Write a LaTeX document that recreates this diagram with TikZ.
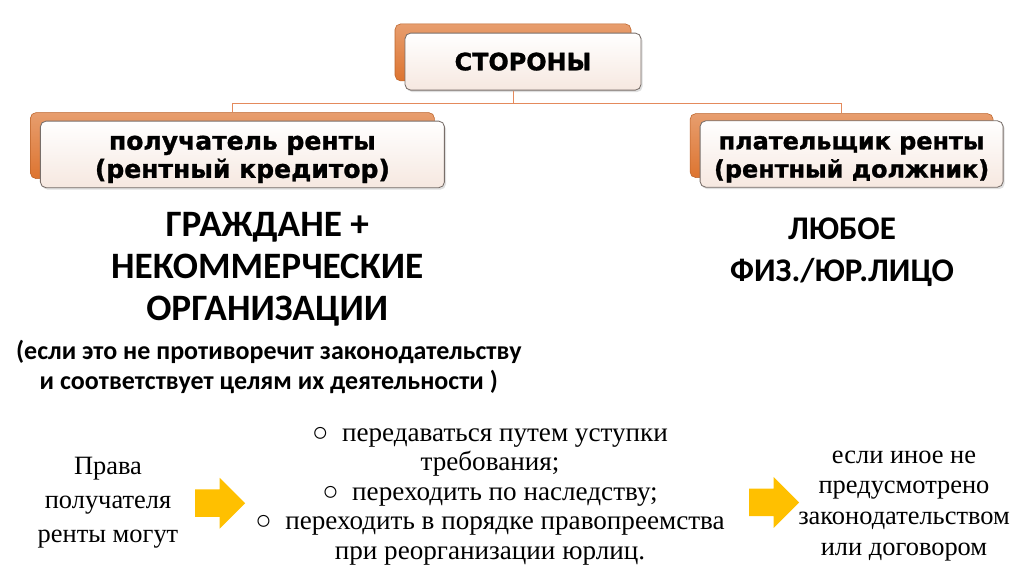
\documentclass[tikz,border=0pt]{standalone}
\usepackage{fontspec}
\setmainfont{Liberation Serif}
\newfontfamily\boxfont{DejaVu Sans}[BoldFeatures={FakeBold=1.2}]
\newfontfamily\headfont{Carlito}
\usetikzlibrary{positioning, shapes, arrows.meta, calc, shadows}

\definecolor{boxorange}{RGB}{221,116,48}
\definecolor{boxedge}{RGB}{120,110,105}
\definecolor{boxpink}{RGB}{246,232,224}
\definecolor{linkorange}{RGB}{228,138,92}
\definecolor{arrowyellow}{RGB}{255,192,0}

\begin{document}
\begin{tikzpicture}[
    backbox/.style={rectangle, rounded corners=4pt, top color=boxorange!70!white, bottom color=boxorange, draw=boxorange!85!black, line width=0.4pt},
    frontbox/.style={rectangle, rounded corners=4pt, draw=boxedge, line width=0.6pt, top color=white, bottom color=boxpink, align=center, font=\boxfont\bfseries\fontsize{17}{20}\selectfont, drop shadow={opacity=0.25, shadow xshift=0.04cm, shadow yshift=-0.05cm}},
    twolines/.style={text height=37pt},
    link/.style={draw=linkorange, line width=0.7pt},
    bigtext/.style={align=center, font=\headfont\bfseries\fontsize{26.5}{30}\selectfont},
    notetext/.style={align=center, font=\headfont\bfseries\fontsize{18.5}{21.5}\selectfont},
    plaintext/.style={align=center, font=\fontsize{19.3}{21}\selectfont},
    blockarrow/.style={single arrow, fill=arrowyellow, minimum height=1.25cm, inner xsep=0pt, inner ysep=0.3375cm, single arrow head extend=0.29cm}
  ]
  \useasboundingbox (0,0) rectangle (25.6,-14.35);

  % Back boxes
  \node[backbox, minimum width=5.9cm, minimum height=1.425cm] (sidesB) at (12.825,-1.31) {};
  \node[backbox, minimum width=10.1cm, minimum height=1.65cm] (recvB) at (5.81,-3.64) {};
  \node[backbox, minimum width=7.575cm, minimum height=1.6cm] (payB) at (21.04,-3.64) {};

  % Front boxes
  \node[frontbox, minimum width=5.9cm, minimum height=1.425cm] (sides) at (13.075,-1.54) {СТОРОНЫ};
  \node[frontbox, twolines, font=\boxfont\bfseries\fontsize{17.8}{20}\selectfont, minimum width=10.1cm, minimum height=1.65cm] (recv) at (6.06,-3.86) {получатель ренты\\(рентный кредитор)};
  \node[frontbox, twolines, minimum width=7.575cm, minimum height=1.6cm] (pay) at (21.29,-3.85) {плательщик ренты\\(рентный должник)};

  % Connectors
  \draw[link] (sidesB |- sides.south) -- ++(0,-0.33) coordinate (split);
  \draw[link] (split) -| (recvB.north);
  \draw[link] (split) -| (payB.north);

  % Who can be a party
  \node[bigtext] (citizens) at (6.68,-6.74) {ГРАЖДАНЕ +\\НЕКОММЕРЧЕСКИЕ\\ОРГАНИЗАЦИИ};
  \node[notetext] (condition) at (6.72,-9.18) {(если это не противоречит законодательству\\и соответствует целям их деятельности )};
  \node[bigtext, font=\headfont\bfseries\fontsize{23.5}{30}\selectfont] (anyone) at (21.05,-6.3) {ЛЮБОЕ\\ФИЗ./ЮР.ЛИЦО};

  % Rights of the recipient
  \node[plaintext, font=\fontsize{18.8}{24}\selectfont] (rights) at (2.7,-12.57) {Права\\получателя\\ренты могут};
  \node[blockarrow] (arrowA) at (5.33,-12.58) {};
  \node[plaintext] (ways) at (12.25,-12.4) {○~~передаваться путем уступки\\требования;\\○~~переходить по наследству;\\○~~переходить в порядке правопреемства\\при реорганизации юрлиц.};
  \node[blockarrow] (arrowB) at (19.18,-12.56) {};
  \node[plaintext, font=\fontsize{18.8}{22}\selectfont] (unless) at (22.6,-12.65) {если иное не\\предусмотрено\\законодательством\\или договором};
\end{tikzpicture}
\end{document}
